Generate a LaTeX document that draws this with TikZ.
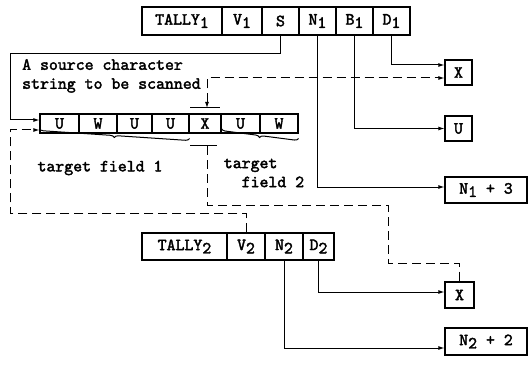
\documentclass[tikz,border=0pt]{standalone}
\usepackage{fontspec}
\setmonofont[AutoFakeBold=2.2]{lmmono10-regular.otf}
\usepackage{tikz}
\usetikzlibrary{arrows.meta, decorations.pathreplacing}
\tikzset{>={Latex[length=6pt,width=4pt]}}
\newcommand{\sbs}[1]{\raisebox{-0.45ex}{#1}}
\tikzset{
    cell/.style = {rectangle, draw, line width=1.1pt, minimum height=28,
                        inner sep=0pt, align=center},
    tcell/.style = {cell, minimum height=19},
    result/.style = {rectangle, draw, line width=1.1pt, inner sep=0pt, align=center},
    wire/.style = {line width=1pt},
    dwire/.style = {wire, dash pattern=on 9pt off 5pt},
    fieldbrace/.style = {wire, decorate, decoration={brace, mirror, amplitude=4pt}}
}

\begin{document}
\begin{tikzpicture}[x=1pt, y=-1pt]
			\tikzstyle{every node}=[font=\ttfamily\bfseries\fontsize{17}{19}\selectfont]
			\useasboundingbox (0,0) rectangle (529,366);
			% scanned register
			\node (tally1) [cell, minimum width=80] at (182,21) {TALLY\sbs{1}};
			\node (v1) [cell, minimum width=40] at (242,21) {V\sbs{1}};
			\node (s1) [cell, minimum width=37] at (280.5,21) {S};
			\node (n1) [cell, minimum width=37] at (317.5,21) {N\sbs{1}};
			\node (b1) [cell, minimum width=37] at (354.5,21) {B\sbs{1}};
			\node (d1) [cell, minimum width=37] at (391.5,21) {D\sbs{1}};
			% source string
			\node (src) [anchor=north west, align=left, inner sep=0pt] at (22,59) {A source character\\string to be scanned};
			\node (t1) [tcell, minimum width=39] at (59.5,123.5) {U};
			\node (t2) [tcell, minimum width=38] at (98,123.5) {W};
			\node (t3) [tcell, minimum width=35] at (134.5,123.5) {U};
			\node (t4) [tcell, minimum width=37] at (170.5,123.5) {U};
			\node (t5) [tcell, minimum width=32] at (205,123.5) {X};
			\node (t6) [tcell, minimum width=39] at (240.5,123.5) {U};
			\node (t7) [tcell, minimum width=38] at (279,123.5) {W};
			\draw [fieldbrace] (t1.south west) ++(0,-5) -- ([yshift=-5pt]t4.south east);
			\draw [fieldbrace] (t6.south west) ++(1,-5) -- ([yshift=-5pt]t7.south east);
			\node (fld1) at (100,168) {target field 1};
			\node (fld2) [align=left] at (264,173) {target\\\ \ field 2};
			% pointer marks
			\coordinate (ptop) at (207,108);
			\coordinate (pbot) at (207,146);
			\draw [wire] ([xshift=-17pt]ptop) -- ([xshift=13pt]ptop);
			\draw [wire] ([xshift=-17pt]pbot) -- ([xshift=10pt]pbot);
			% results
			\node (x1) [result, minimum width=27, minimum height=25] at (458.5,72.5) {X};
			\node (u1) [result, minimum width=27, minimum height=25] at (458.5,128.5) {U};
			\node (n1res) [result, minimum width=82, minimum height=26] at (486,190) {N\sbs{1} + 3};
			% second register
			\node (tally2) [cell, minimum width=85, minimum height=27] at (184.5,246.5) {TALLY\sbs{2}};
			\node (v2) [cell, minimum width=38, minimum height=27] at (246,246.5) {V\sbs{2}};
			\node (n2) [cell, minimum width=38, minimum height=27] at (284,246.5) {N\sbs{2}};
			\node (d2) [cell, minimum width=31, minimum height=27] at (318.5,246.5) {D\sbs{2}};
			\node (x2) [result, minimum width=29, minimum height=26] at (459.5,295) {X};
			\node (n2res) [result, minimum width=82, minimum height=27] at (486,341.5) {N\sbs{2} + 2};
			% connections
			\coordinate (srcbend) at (10,54);
			\coordinate (v2bend) at (10,213);
			\coordinate (rbend) at (388,205);
			\coordinate (rbend2) at (388,263);
			\draw [wire,->] (s1.south) |- (srcbend) |- ([yshift=3.5pt]t1.west);
			\draw [dwire,->] (v2.north) |- (v2bend) |- ([yshift=-6.5pt]t1.west);
			\draw [dwire,<->] (ptop) |- ([yshift=-5.5pt]x1.west);
			\draw [dwire] (pbot) |- (rbend) -- (rbend2) -| (x2.north);
			\draw [wire,->] (d1.south) |- ([yshift=7.5pt]x1.west);
			\draw [wire,->] (b1.south) |- (u1.west);
			\draw [wire,->] (n1.south) |- ([yshift=3pt]n1res.west);
			\draw [wire,->] (d2.south) |- ([yshift=3pt]x2.west);
			\draw [wire,->] (n2.south) |- ([yshift=-6.5pt]n2res.west);
		\end{tikzpicture}
\end{document}
